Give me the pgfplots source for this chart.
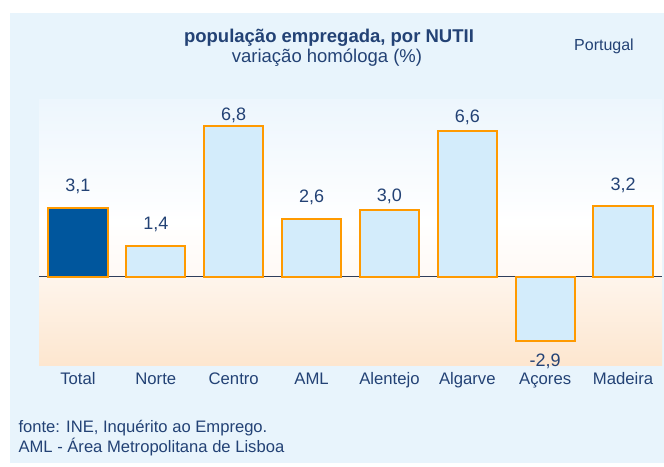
\documentclass[border=0pt]{standalone}
\usepackage{pgfplots}
\pgfplotsset{compat=1.18}
\usepackage{pgfplotstable}
\usepackage{fontspec}
\setmainfont{Liberation Sans}

\definecolor{txt}{HTML}{234275}
\definecolor{panel}{HTML}{E8F4FC}
\definecolor{barfill}{HTML}{D3ECFB}
\definecolor{barline}{HTML}{FF9A00}
\definecolor{totalfill}{HTML}{00569D}
\definecolor{zeroline}{HTML}{2F3E5A}
\definecolor{peach}{HTML}{FDE6CF}
\definecolor{peachlight}{HTML}{FEF5EC}
\definecolor{warmwhite}{HTML}{FFF9F4}
\definecolor{skytop}{HTML}{EDF6FD}

% plot area: peach below zero (zero sits at 1/3 of the height), pale blue above
\pgfdeclareverticalshading{plotbg}{100bp}{%
  color(0bp)=(peach); color(25bp)=(peach); color(41.6bp)=(peachlight);
  color(41.7bp)=(warmwhite); color(52bp)=(white); color(75bp)=(skytop);
  color(100bp)=(skytop)}

% x = position, y = value, off = label shift from bar end (pt)
\pgfplotstableread{
x y off
1 1.4 21
2 6.8 11
3 2.6 22
4 3.0 14
5 6.6 14
6 -2.9 -21
7 3.2 21
}\regions
\pgfplotstableread{
x y off
0 3.1 22
}\total

\begin{document}
\begin{tikzpicture}
    \fill[white] (-39pt,-101pt) rectangle (625pt,365pt);
    \fill[panel] (-29pt,-98pt) rectangle (625pt,352pt);
    \begin{axis}[
            scale only axis,
            width=623pt, height=265pt,
            xmin=-0.5, xmax=7.5,
            ymin=-4, ymax=8,
            clip=false,
            axis background/.style={shading=plotbg},
            axis line style={draw=none},
            major tick length=0pt,
            ytick=\empty,
            extra y ticks={0},
            extra y tick labels={},
            extra y tick style={grid=major, major grid style={zeroline, line width=1pt}},
            xtick={0,...,7},
            xticklabels={Total,Norte,Centro,AML,Alentejo,Algarve,Açores,Madeira},
            xticklabel style={anchor=base, yshift=-19pt, text=txt,
                    font=\fontsize{16.7}{18}\selectfont},
            ybar,
            bar width=0.76,
            /pgf/bar shift=0pt,
            /pgf/number format/assume math mode=true,
            nodes near coords={\pgfmathprintnumber[fixed,fixed zerofill,precision=1,use comma]{\pgfplotspointmeta}},
        ]
        \addplot[fill=barfill, draw=barline, line width=2pt,
            visualization depends on={\thisrow{off} \as \off},
            every node near coord/.append style={anchor=center, yshift=\off pt,
                    text=txt, font=\fontsize{18}{20}\selectfont}]
            table[x=x, y=y] {\regions};
        \addplot[fill=totalfill, draw=barline, line width=2pt,
            visualization depends on={\thisrow{off} \as \off},
            every node near coord/.append style={anchor=center, yshift=\off pt,
                    text=txt, font=\fontsize{18}{20}\selectfont}]
            table[x=x, y=y] {\total};
    \end{axis}
    \node[text=txt, font=\fontsize{18.5}{20}\selectfont\bfseries] at (290pt,327pt) {população empregada, por NUTII};
    \node[text=txt, font=\fontsize{18.5}{20}\selectfont] at (288pt,307pt) {variação homóloga (\%)};
    \node[text=txt, font=\fontsize{16}{18}\selectfont] at (565pt,319pt) {Portugal};
    \node[anchor=west, text=txt, font=\fontsize{16.6}{19}\selectfont] at (-24pt,-63pt) {fonte: INE, Inquérito ao Emprego.};
    \node[anchor=west, text=txt, font=\fontsize{16.6}{19}\selectfont] at (-24pt,-82pt) {AML - Área Metropolitana de Lisboa};
    \useasboundingbox (-39pt,-101pt) rectangle (625pt,365pt);
\end{tikzpicture}
\end{document}
